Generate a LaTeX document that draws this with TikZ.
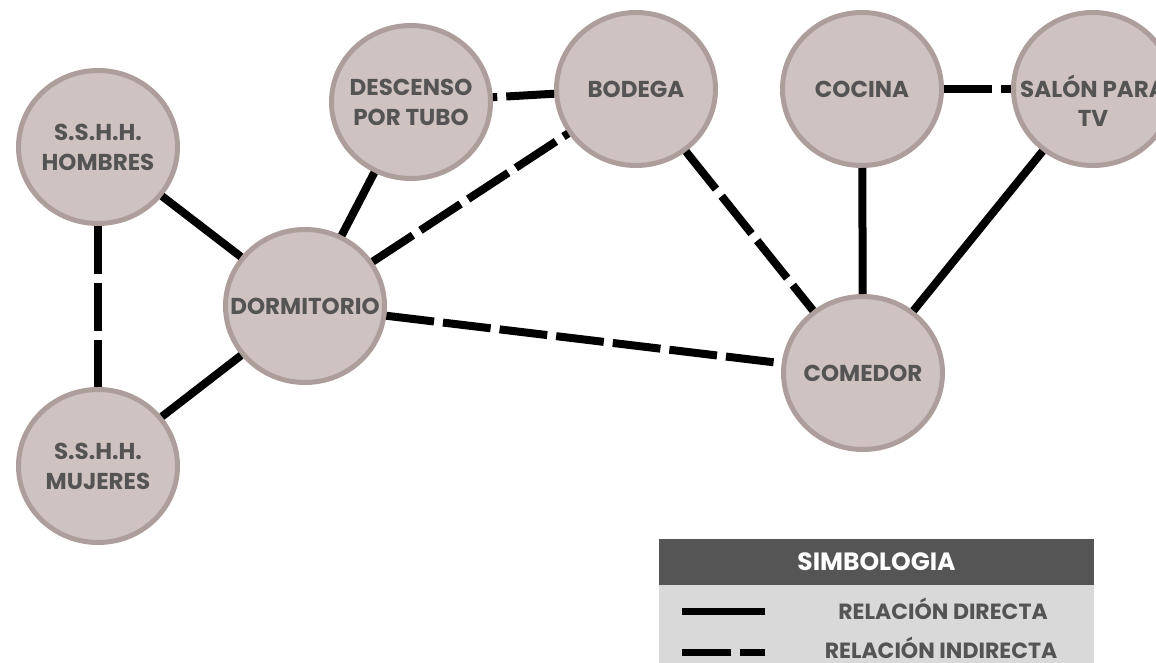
\documentclass[tikz,border=0pt]{standalone}
\usepackage{fontspec}
\setmainfont{Poppins}
\usetikzlibrary{shapes.geometric}
\definecolor{roomfill}{RGB}{207,195,193}
\definecolor{roomline}{RGB}{174,158,155}
\definecolor{roomtext}{RGB}{84,84,84}
\definecolor{legendhead}{RGB}{85,85,85}
\definecolor{legendbody}{RGB}{217,217,217}
\begin{document}
\begin{tikzpicture}[x=1pt,y=-1pt,
        room/.style={ellipse, draw=roomline, line width=5pt, fill=roomfill,
            minimum width=159pt, minimum height=153pt, inner xsep=-80pt, inner ysep=0pt,
            align=center, text=roomtext, font=\bfseries\fontsize{23}{30}\selectfont},
        direct/.style={line width=8pt},
        indirect/.style={line width=8pt, dash pattern=on 48pt off 9pt},
        keytext/.style={text=roomtext, font=\bfseries\fontsize{22}{24}\selectfont}]
    \useasboundingbox (0,0) rectangle (1156,663);
    % Rooms.
        \node[room] (hombres) at (98,147) {S.S.H.H.\\HOMBRES};
        \node[room] (mujeres) at (98,466) {S.S.H.H.\\MUJERES};
        \node[room] (dormitorio) at (305,306) {DORMITORIO};
        \node[room] (descenso) at (411,102) {DESCENSO\\POR TUBO};
        \node[room] (bodega) at (636,89) {BODEGA};
        \node[room] (cocina) at (862,89) {COCINA};
        \node[room] (comedor) at (863,373) {COMEDOR};
        \node[room] (salon) at (1093,89) {};
        \node[text=roomtext, align=center, font=\bfseries\fontsize{23}{29}\selectfont] (salontext) at (1093,101) {SALÓN PARA\\TV};
    % Direct relations.
        \draw[direct] (hombres) -- (dormitorio);
        \draw[direct] (mujeres) -- (dormitorio);
        \draw[direct] (descenso) -- (dormitorio);
        \draw[direct] (cocina) -- (comedor);
        \draw[direct] (salon) -- (comedor);
    % Indirect relations.
        \draw[indirect] (hombres) -- (mujeres);
        \draw[indirect] (bodega) -- (descenso);
        \draw[indirect] (dormitorio) -- (bodega);
        \draw[indirect] (dormitorio) -- (comedor);
        \draw[indirect] (bodega) -- (comedor);
        \draw[indirect] (cocina) -- (salon);
    % Legend box.
        \node[fill=legendhead, minimum width=435pt, minimum height=46pt, text=white,
            font=\bfseries\fontsize{25}{27}\selectfont] (head) at (876.5,562) {SIMBOLOGIA};
        \node[fill=legendbody, anchor=north, minimum width=435pt, minimum height=90pt] (body) at (head.south) {};
        \node[keytext] (directa) at (943,609) {RELACIÓN DIRECTA};
        \node[keytext] (indirecta) at (941,648) {RELACIÓN INDIRECTA};
        \coordinate (k1) at (682,611);
        \coordinate (k2) at (765,611);
        \coordinate (k3) at (682,652);
        \coordinate (k4) at (731,652);
        \coordinate (k5) at (740,652);
        \coordinate (k6) at (765,652);
        \draw[line width=7pt] (k1) -- (k2);
        \draw[line width=7pt] (k3) -- (k4) (k5) -- (k6);
\end{tikzpicture}
\end{document}
